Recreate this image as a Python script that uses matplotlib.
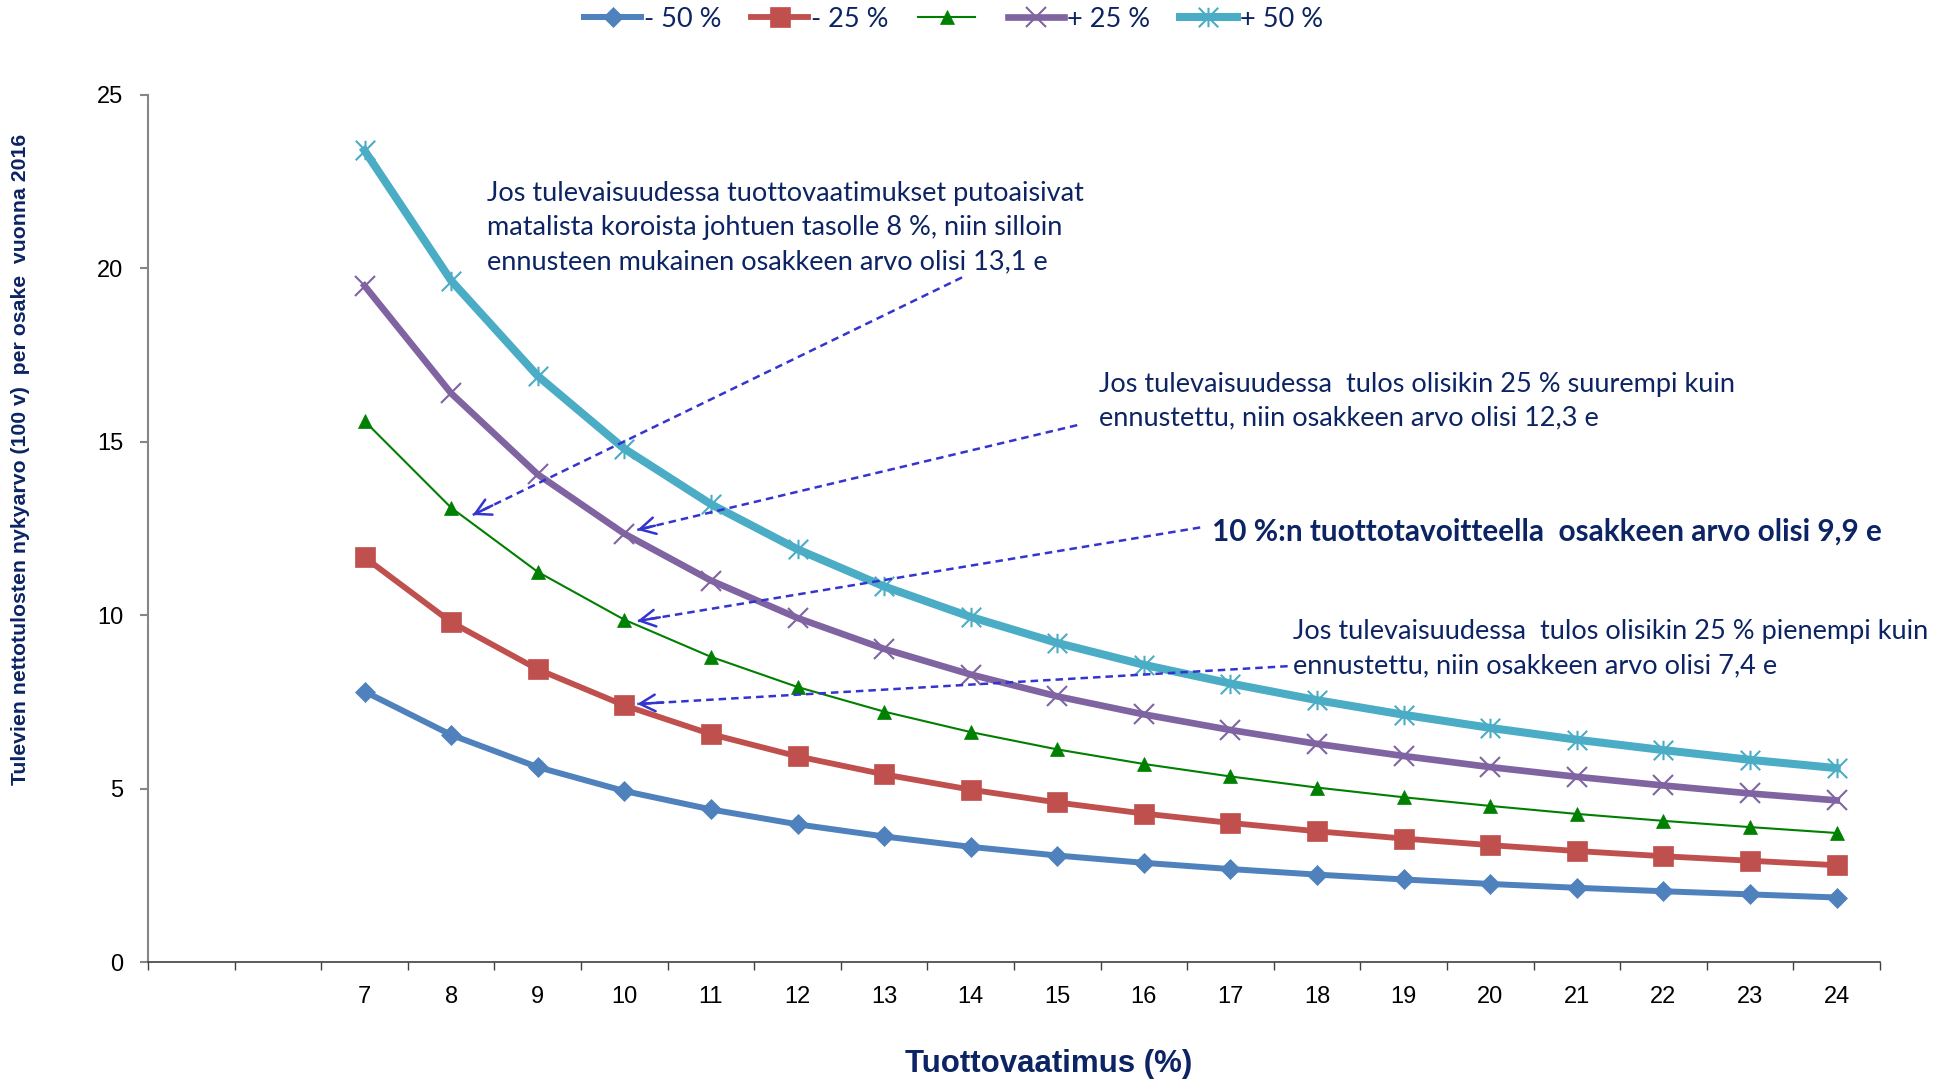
###################################################################
### Present value per share vs required return, five scenarios
###################################################################

import numpy as np
import matplotlib as mpl
mpl.use('Agg')
import matplotlib.pyplot as plt
from matplotlib.path import Path

plt.rcParams['font.family'] = ['Liberation Sans', 'DejaVu Sans']

#### data
rates = [7, 8, 9, 10, 11, 12, 13, 14, 15, 16, 17, 18, 19, 20, 21, 22, 23, 24]
minus50 = [7.8, 6.55, 5.62, 4.93, 4.4, 3.97, 3.62, 3.32, 3.07, 2.86, 2.68, 2.52, 2.38, 2.25, 2.14, 2.04, 1.95, 1.86]
minus25 = [11.67, 9.8, 8.44, 7.4, 6.57, 5.93, 5.41, 4.97, 4.6, 4.28, 4.01, 3.77, 3.56, 3.37, 3.2, 3.05, 2.92, 2.79]
base = [15.6, 13.1, 11.25, 9.87, 8.8, 7.93, 7.22, 6.63, 6.13, 5.71, 5.35, 5.03, 4.75, 4.5, 4.27, 4.07, 3.89, 3.72]
plus25 = [19.5, 16.4, 14.06, 12.35, 11.0, 9.92, 9.03, 8.29, 7.66, 7.14, 6.69, 6.29, 5.94, 5.62, 5.34, 5.09, 4.86, 4.66]
plus50 = [23.4, 19.65, 16.9, 14.8, 13.2, 11.9, 10.83, 9.95, 9.2, 8.57, 8.03, 7.55, 7.13, 6.75, 6.41, 6.11, 5.83, 5.59]
series_labels = ['- 50 %', '- 25 %', '', '+ 25 %', '+ 50 %']

notes = ['Jos tulevaisuudessa tuottovaatimukset putoaisivat\nmatalista koroista johtuen tasolle 8 %, niin silloin\nennusteen mukainen osakkeen arvo olisi 13,1 e',
         'Jos tulevaisuudessa  tulos olisikin 25 % suurempi kuin\nennustettu, niin osakkeen arvo olisi 12,3 e',
         '10 %:n tuottotavoitteella  osakkeen arvo olisi 9,9 e',
         'Jos tulevaisuudessa  tulos olisikin 25 % pienempi kuin\nennustettu, niin osakkeen arvo olisi 7,4 e']
note_xy = [(8.42, 21.18), (15.48, 16.17), (16.79, 12.4), (17.72, 9.03)]
note_bold = [False, False, True, False]
note_size = [19.5, 19.5, 21.4, 19.5]
arrow_tail = [(13.9, 19.74), (15.23, 15.48), (16.65, 12.53), (17.66, 8.53)]
arrow_head = [(8.25, 12.89), (10.15, 12.46), (10.15, 9.83), (10.15, 7.44)]

navy = '#0c2463'
arrow_col = '#3434d0'

### star marker like excel: vertical bar + x
star = Path([(0, -1), (0, 1), (-1, -1), (1, 1), (-1, 1), (1, -1)],
            [Path.MOVETO, Path.LINETO] * 3)

###########################################################################
#### create figure
fig = plt.figure(figsize=(19.5, 10.82), dpi=100)
ax = fig.add_axes([0.0759, 0.1109, 0.8882, 0.8013])

l1, = ax.plot(rates, minus50, color='#4F81BD', lw=4.3, marker='D', ms=10, mew=0.5)
l2, = ax.plot(rates, minus25, color='#C0504D', lw=4.2, marker='s', ms=14, mew=0.5)
l3, = ax.plot(rates, base, color='#008000', lw=1.5, marker='^', ms=10.5, mew=0.5)
l4, = ax.plot(rates, plus25, color='#8064A2', lw=4.8, marker='x', ms=14, mew=1.5)
l5, = ax.plot(rates, plus50, color='#4BACC6', lw=5.8, marker=star, ms=14,
              mew=1.5, mfc='none')

ax.set_xlim([4.5, 24.5])
ax.set_ylim([0, 25])
ax.set_xticks(rates)
ax.set_xticks(np.arange(4.5, 25, 1), minor=True)
ax.set_yticks(range(0, 26, 5))
ax.tick_params(axis='x', which='major', length=0, pad=17, labelsize=17)
ax.tick_params(axis='x', which='minor', length=5.8, width=1, color='#404040', direction='out')
ax.tick_params(axis='y', length=5.8, width=1.5, color='#868686', pad=12, labelsize=17)
for s in ['top', 'right']:
    ax.spines[s].set_visible(False)
ax.spines['left'].set_color('#868686')
ax.spines['left'].set_linewidth(1.5)
ax.spines['bottom'].set_color('#404040')
ax.spines['bottom'].set_linewidth(1.2)

#### annotations
for txt, (x, y), b, fs in zip(notes, note_xy, note_bold, note_size):
    ax.text(x, y, txt, family='Lato', fontsize=fs, color=navy, ha='left', va='center',
            linespacing=1.45, weight='bold' if b else 'normal', zorder=6)

for (tx, ty), (hx, hy) in zip(arrow_tail, arrow_head):
    ax.plot([tx, hx], [ty, hy], color=arrow_col, lw=1.8, dashes=(3, 2), zorder=7)
    ax.annotate('', xy=(hx, hy), xytext=(hx + 0.04 * (tx - hx), hy + 0.04 * (ty - hy)),
                arrowprops=dict(arrowstyle='->,head_length=0.55,head_width=0.3',
                                color=arrow_col, lw=1.8, mutation_scale=20,
                                shrinkA=0, shrinkB=0), zorder=7)

#### legend and axis titles
fig.legend([l1, l2, l3, l4, l5], series_labels, loc='center', bbox_to_anchor=(0.489, 0.982),
           ncol=5, frameon=False, prop={'family': 'Lato', 'size': 19.5},
           handlelength=2.1, handletextpad=0.1, columnspacing=1.1, labelcolor=navy)

fig.text(21 / 1950, 1 - 459 / 1082, 'Tulevien nettotulosten nykyarvo (100 v)  per osake  vuonna 2016',
         rotation=90, fontsize=15.3, weight='bold', color=navy, ha='center', va='center')
fig.text(0.5376, 0.0166, 'Tuottovaatimus (%)', fontsize=22.5, weight='bold', color=navy,
         ha='center', va='center')

fig.savefig('out.png', dpi=100)
plt.close()
